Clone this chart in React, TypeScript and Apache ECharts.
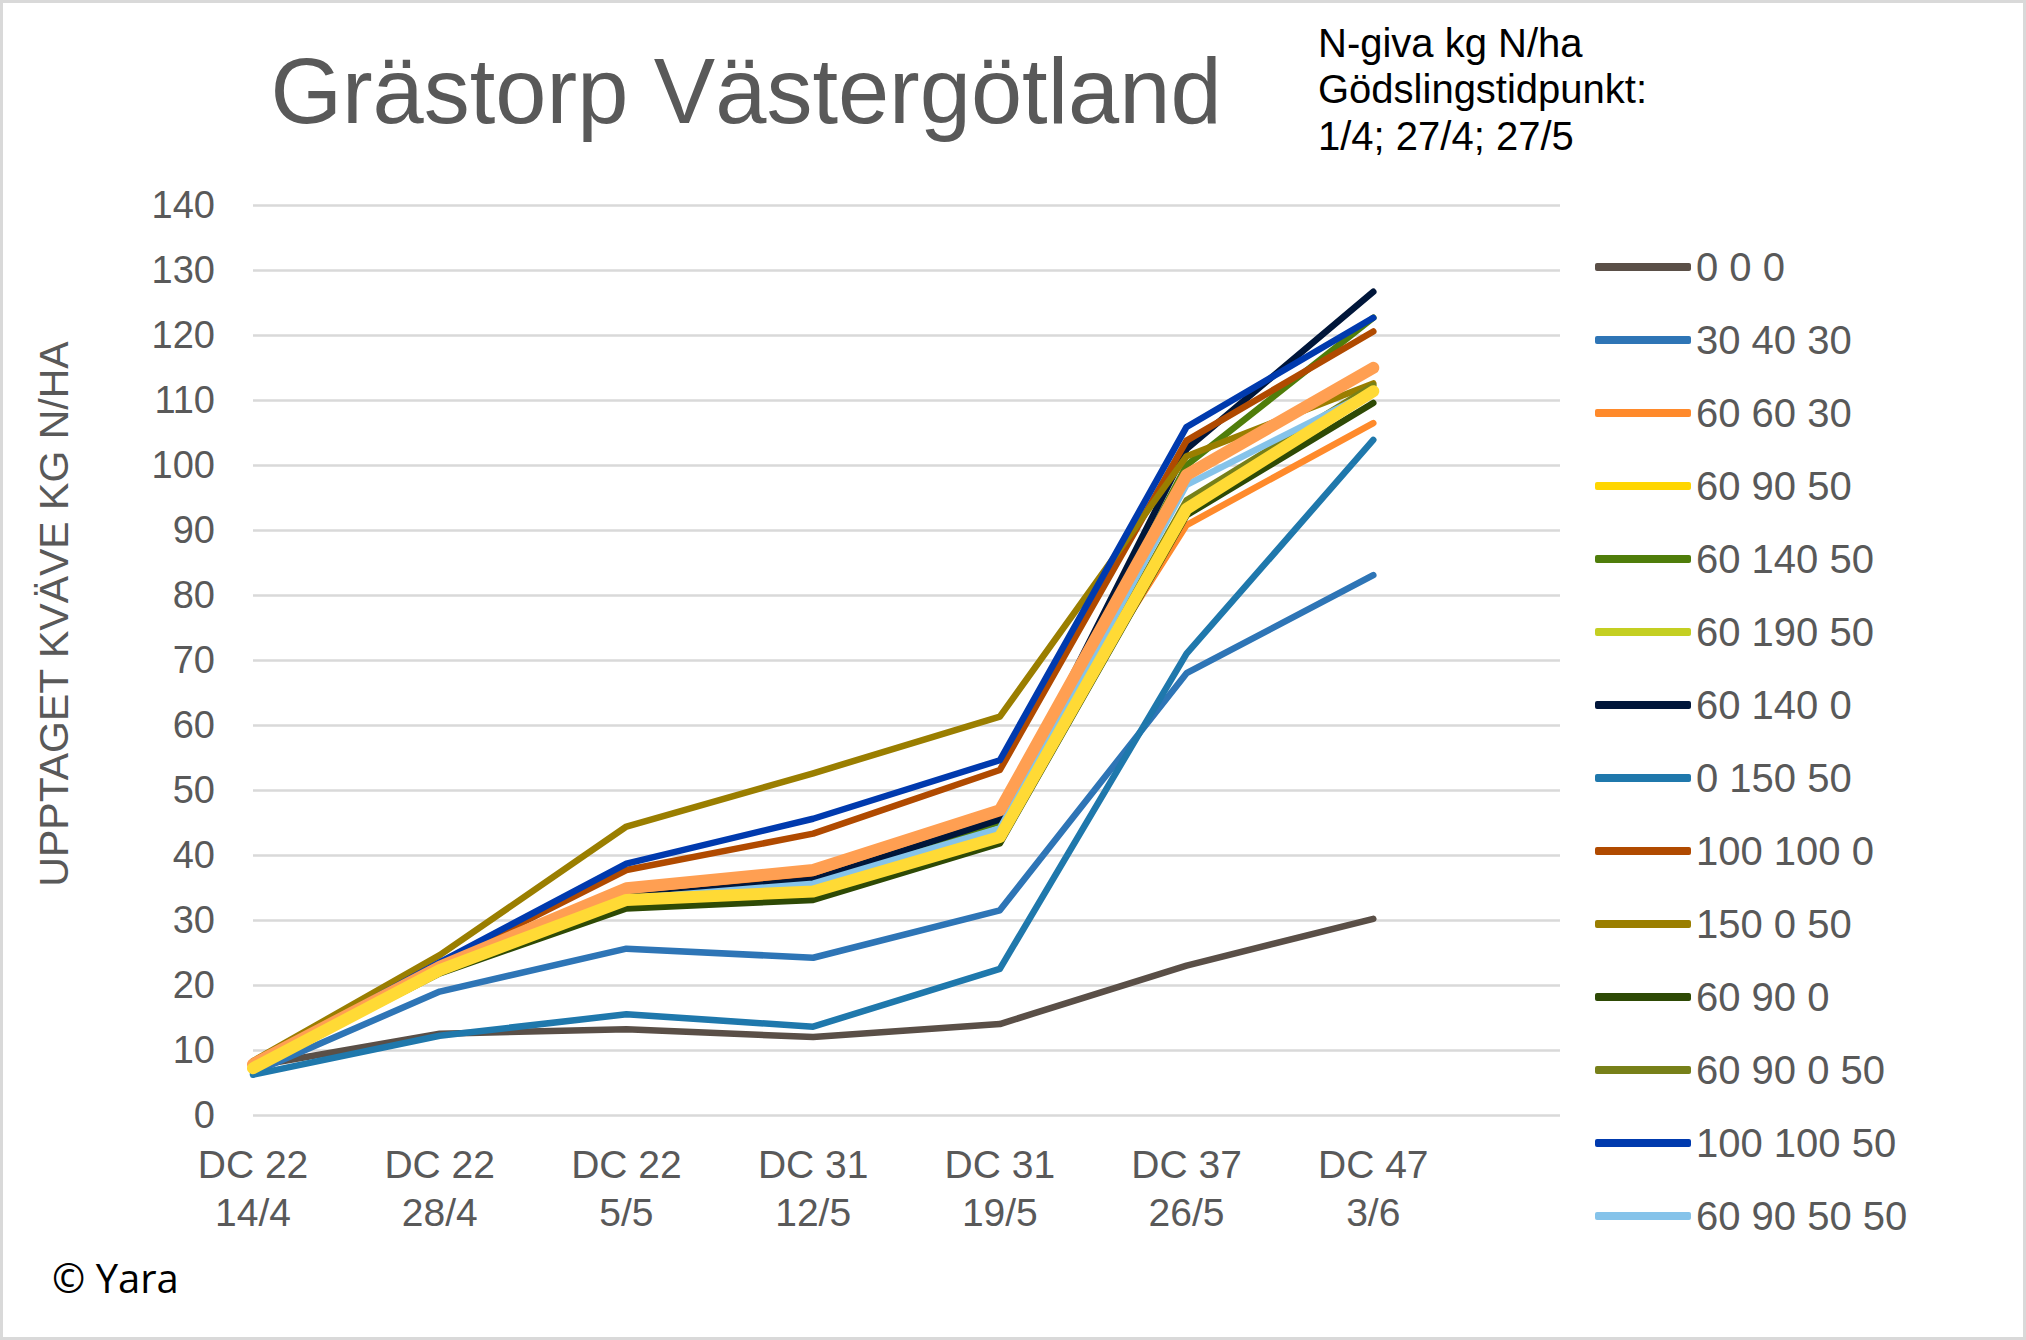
import React, { useEffect, useRef } from "react";
import * as echarts from "echarts";

const categories = ["DC 22\n14/4", "DC 22\n28/4", "DC 22\n5/5", "DC 31\n12/5", "DC 31\n19/5", "DC 37\n26/5", "DC 47\n3/6", ""];

const seriesNames = [
  "0 0 0", "30 40 30", "60 60 30", "60 90 50", "60 140 50", "60 190 50", "60 140 0",
  "0 150 50", "100 100 0", "150 0 50", "60 90 0", "60 90 0 50", "100 100 50", "60 90 50 50",
  "Serie 15", "Serie 16",
];
const legendNames = seriesNames.slice(0, 14);

const s000 = [7.5, 12.5, 13.2, 12.0, 14.0, 23.0, 30.2];
const s304030 = [6.5, 19.0, 25.6, 24.2, 31.5, 68.0, 83.1];
const s606030 = [7.8, 22.8, 34.5, 36.5, 45.5, 90.8, 106.5];
const s609050 = [7.3, 22.2, 33.2, 34.5, 43.0, 93.5, 111.3];
const s6014050 = [7.6, 22.5, 33.5, 35.9, 45.1, 100.0, 122.7];
const s6019050 = [7.3, 22.2, 33.0, 34.5, 43.0, 93.0, 111.0];
const s601400 = [7.7, 22.8, 33.5, 36.2, 45.5, 102.5, 126.7];
const s015050 = [6.2, 12.2, 15.5, 13.6, 22.5, 71.0, 103.9];
const s1001000 = [7.8, 23.2, 37.7, 43.3, 53.1, 103.8, 120.6];
const s150050 = [8.3, 24.6, 44.4, 52.6, 61.3, 101.4, 112.6];
const s60900 = [7.2, 21.8, 31.8, 33.1, 41.8, 92.3, 109.6];
const s6090050 = [7.4, 22.0, 33.0, 34.8, 43.5, 94.6, 112.3];
const s10010050 = [7.8, 23.5, 38.7, 45.6, 54.6, 105.9, 122.7];
const s60905050 = [7.3, 22.2, 33.3, 35.6, 44.1, 97.0, 111.5];
const sThickSalmon = [7.8, 22.8, 34.9, 37.7, 46.9, 98.5, 115.0];
const sThickYellow = [7.2, 22.3, 33.1, 34.4, 42.8, 93.3, 111.4];

const seriesData = [
  s000, s304030, s606030, s609050, s6014050, s6019050, s601400, s015050,
  s1001000, s150050, s60900, s6090050, s10010050, s60905050, sThickSalmon, sThickYellow,
];

const colors = [
  "#5A4F47", "#2E75B6", "#FF8A2B", "#FFD600", "#4F7D0A", "#C4CF22", "#00163A", "#1F78AC",
  "#B04A00", "#9A7E00", "#2E4A05", "#778019", "#003AAE", "#85C3EA", "#FF9F52", "#FFDA35",
];
const widths = [6.5, 6.5, 6.5, 6.5, 6.5, 6.5, 6.5, 6.5, 6.5, 6.5, 6.5, 6.5, 6.5, 6.5, 12, 12];

const FONT = "'Liberation Sans', Arial, sans-serif";
const GRAY = "#595959";

export default function App() {
  const ref = useRef<HTMLDivElement>(null);
  useEffect(() => {
    if (!ref.current) return;
    const chart = echarts.init(ref.current, undefined, { renderer: "svg" });
    chart.setOption({
      animation: false,
      backgroundColor: "#ffffff",
      textStyle: { fontFamily: FONT },
      grid: { left: 253, right: 466, top: 205.4, bottom: 225, containLabel: false },
      xAxis: {
        type: "category",
        data: categories,
        boundaryGap: false,
        axisLine: { show: false },
        axisTick: { show: false },
        splitLine: { show: false },
        axisLabel: {
          color: GRAY,
          fontSize: 39,
          fontFamily: FONT,
          lineHeight: 48,
          margin: 25,
          interval: 0,
        },
      },
      yAxis: {
        type: "value",
        min: 0,
        max: 140,
        interval: 10,
        axisLine: { show: false },
        axisTick: { show: false },
        splitLine: { lineStyle: { color: "#D9D9D9", width: 2.5 } },
        axisLabel: { color: GRAY, fontSize: 38, fontFamily: FONT, margin: 38 },
      },
      legend: {
        data: legendNames,
        orient: "vertical",
        left: 1590,
        top: 240,
        icon: "roundRect",
        itemWidth: 96,
        itemHeight: 8,
        itemGap: 29,
        textStyle: { color: GRAY, fontSize: 40, fontFamily: FONT, lineHeight: 44 },
      },
      graphic: [
        {
          type: "rect",
          shape: { x: 1.5, y: 1.5, width: 2023, height: 1337 },
          style: { fill: "none", stroke: "#D9D9D9", lineWidth: 3 },
          silent: true,
        },
        {
          type: "text",
          x: 746,
          y: 91,
          style: {
            text: "Grästorp Västergötland",
            fill: GRAY,
            font: `92px ${FONT}`,
            textAlign: "center",
            textVerticalAlign: "middle",
          },
        },
        {
          type: "text",
          x: 1318,
          y: 43,
          style: { text: "N-giva kg N/ha", fill: "#000", font: `40px ${FONT}`, textAlign: "left", textVerticalAlign: "middle" },
        },
        {
          type: "text",
          x: 1318,
          y: 89,
          style: { text: "Gödslingstidpunkt:", fill: "#000", font: `40px ${FONT}`, textAlign: "left", textVerticalAlign: "middle" },
        },
        {
          type: "text",
          x: 1318,
          y: 136,
          style: { text: "1/4; 27/4; 27/5", fill: "#000", font: `40px ${FONT}`, textAlign: "left", textVerticalAlign: "middle" },
        },
        {
          type: "text",
          x: 54,
          y: 614,
          rotation: Math.PI / 2,
          style: {
            text: "UPPTAGET KVÄVE KG N/HA",
            fill: GRAY,
            font: `41px ${FONT}`,
            textAlign: "center",
            textVerticalAlign: "middle",
          },
        },
        {
          type: "text",
          x: 52,
          y: 1277,
          style: {
            text: "© Yara",
            fill: "#000",
            font: "40px 'Open Sans', sans-serif",
            textAlign: "left",
            textVerticalAlign: "middle",
          },
        },
      ],
      series: seriesData.map((d, i) => ({
        name: seriesNames[i],
        type: "line",
        data: d,
        symbol: "none",
        color: colors[i],
        lineStyle: { color: colors[i], width: widths[i], cap: "round", join: "round" },
        z: 2,
      })),
    });
    return () => chart.dispose();
  }, []);
  return (
    <div
      ref={ref}
      style={{ position: "absolute", left: 0, top: 0, width: 2026, height: 1340 }}
    />
  );
}
